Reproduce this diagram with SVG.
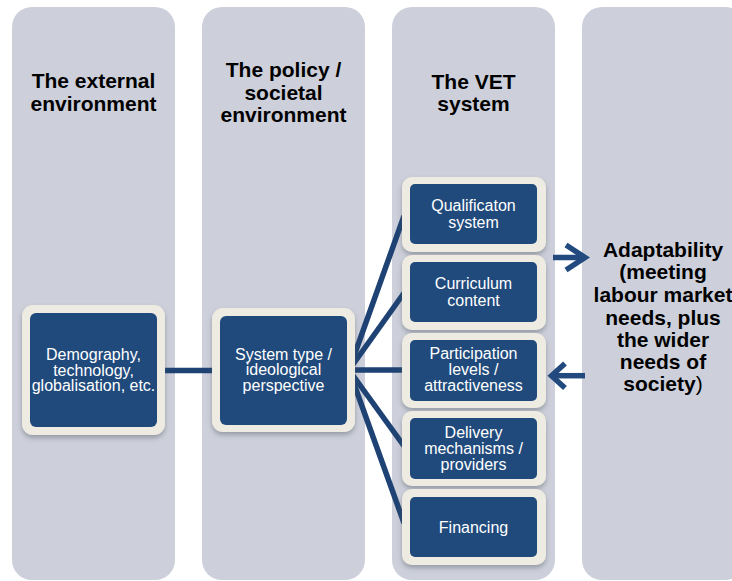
<svg xmlns="http://www.w3.org/2000/svg" width="732" height="581" viewBox="0 0 732 581">
<defs>
<filter id="sh" x="-20%" y="-20%" width="140%" height="150%">
<feDropShadow dx="0" dy="3" stdDeviation="2.5" flood-color="#555a66" flood-opacity="0.45"/>
</filter>
<style>
.col{fill:#cdd0da}
.outer{fill:#eeece2;filter:url(#sh)}
.inner{fill:#204a7c}
.hd{font-family:"Liberation Sans",Arial,sans-serif;font-size:21px;font-weight:bold;fill:#000;text-anchor:middle}
.nt{font-family:"Liberation Sans",Arial,sans-serif;font-size:16px;fill:#fff;text-anchor:middle}
.cn{stroke:#1e4273;stroke-width:5.5;fill:none;stroke-linecap:butt}
.ar{stroke:#224a7e;stroke-width:5.5;fill:none;stroke-linejoin:miter;stroke-miterlimit:10}
</style>
</defs>
<rect width="732" height="581" fill="#fff"/>
<g id="columns">
<rect class="col" x="12" y="7" width="163" height="573" rx="20"/>
<rect class="col" x="202" y="7" width="163" height="573" rx="20"/>
<rect class="col" x="392" y="7" width="163" height="573" rx="20"/>
<rect class="col" x="582" y="7" width="163" height="573" rx="20"/>
</g>
<g id="headers">
<text class="hd" x="93.5" y="88">The external</text>
<text class="hd" x="93.5" y="110.5">environment</text>
<text class="hd" x="283.5" y="77">The policy /</text>
<text class="hd" x="283.5" y="99.5">societal</text>
<text class="hd" x="283.5" y="122">environment</text>
<text class="hd" x="473.5" y="89">The VET</text>
<text class="hd" x="473.5" y="111">system</text>
</g>
<g id="connectors">
<line class="cn" x1="160" y1="370.5" x2="213" y2="370.5"/>
<line class="cn" x1="349" y1="370" x2="404" y2="216"/>
<line class="cn" x1="349" y1="370" x2="404" y2="293"/>
<line class="cn" x1="349" y1="370" x2="404" y2="370"/>
<line class="cn" x1="349" y1="370" x2="404" y2="446"/>
<line class="cn" x1="349" y1="370" x2="404" y2="523"/>
<line class="ar" x1="553" y1="257.5" x2="583" y2="257.5"/>
<polyline class="ar" points="566,245 585,257.5 566,270"/>
<line class="ar" x1="585" y1="375.7" x2="554" y2="375.7"/>
<polyline class="ar" points="565,363.5 551.5,375.7 565,388"/>
</g>
<g id="node-demography">
<rect class="outer" x="22" y="305" width="143" height="130" rx="11"/>
<rect class="inner" x="30" y="313" width="127" height="114" rx="6"/>
<text class="nt" x="93.5" y="359.5">Demography,</text>
<text class="nt" x="93.5" y="375.5">technology,</text>
<text class="nt" x="93.5" y="391">globalisation, etc.</text>
</g>
<g id="node-systemtype">
<rect class="outer" x="212" y="308" width="143" height="124" rx="11"/>
<rect class="inner" x="220" y="316" width="127" height="109" rx="6"/>
<text class="nt" x="283.5" y="359.5">System type /</text>
<text class="nt" x="283.5" y="375">ideological</text>
<text class="nt" x="283.5" y="390.5">perspective</text>
</g>
<g id="node-qualification">
<rect class="outer" x="402" y="177" width="144" height="75" rx="10"/>
<rect class="inner" x="410" y="184" width="127" height="60" rx="5"/>
<text class="nt" x="473.5" y="211">Qualificaton</text>
<text class="nt" x="473.5" y="227.5">system</text>
</g>
<g id="node-curriculum">
<rect class="outer" x="402" y="255" width="144" height="75" rx="10"/>
<rect class="inner" x="410" y="262" width="127" height="60" rx="5"/>
<text class="nt" x="473.5" y="289">Curriculum</text>
<text class="nt" x="473.5" y="306">content</text>
</g>
<g id="node-participation">
<rect class="outer" x="402" y="333" width="144" height="75" rx="10"/>
<rect class="inner" x="410" y="340" width="127" height="61" rx="5"/>
<text class="nt" x="473.5" y="359">Participation</text>
<text class="nt" x="473.5" y="375">levels /</text>
<text class="nt" x="473.5" y="391">attractiveness</text>
</g>
<g id="node-delivery">
<rect class="outer" x="402" y="411" width="144" height="75" rx="10"/>
<rect class="inner" x="410" y="418" width="127" height="61" rx="5"/>
<text class="nt" x="473.5" y="437.5">Delivery</text>
<text class="nt" x="473.5" y="453.5">mechanisms /</text>
<text class="nt" x="473.5" y="469.5">providers</text>
</g>
<g id="node-financing">
<rect class="outer" x="402" y="489" width="144" height="76" rx="10"/>
<rect class="inner" x="410" y="497" width="127" height="60" rx="5"/>
<text class="nt" x="473.5" y="532.5">Financing</text>
</g>
<g id="adaptability">
<text class="hd" x="663" y="257">Adaptability</text>
<text class="hd" x="663" y="279">(meeting</text>
<text class="hd" x="663" y="302">labour market</text>
<text class="hd" x="663" y="325">needs, plus</text>
<text class="hd" x="663" y="347">the wider</text>
<text class="hd" x="663" y="369">needs of</text>
<text class="hd" x="663" y="391">society<tspan font-weight="normal">)</tspan></text>
</g>
</svg>
